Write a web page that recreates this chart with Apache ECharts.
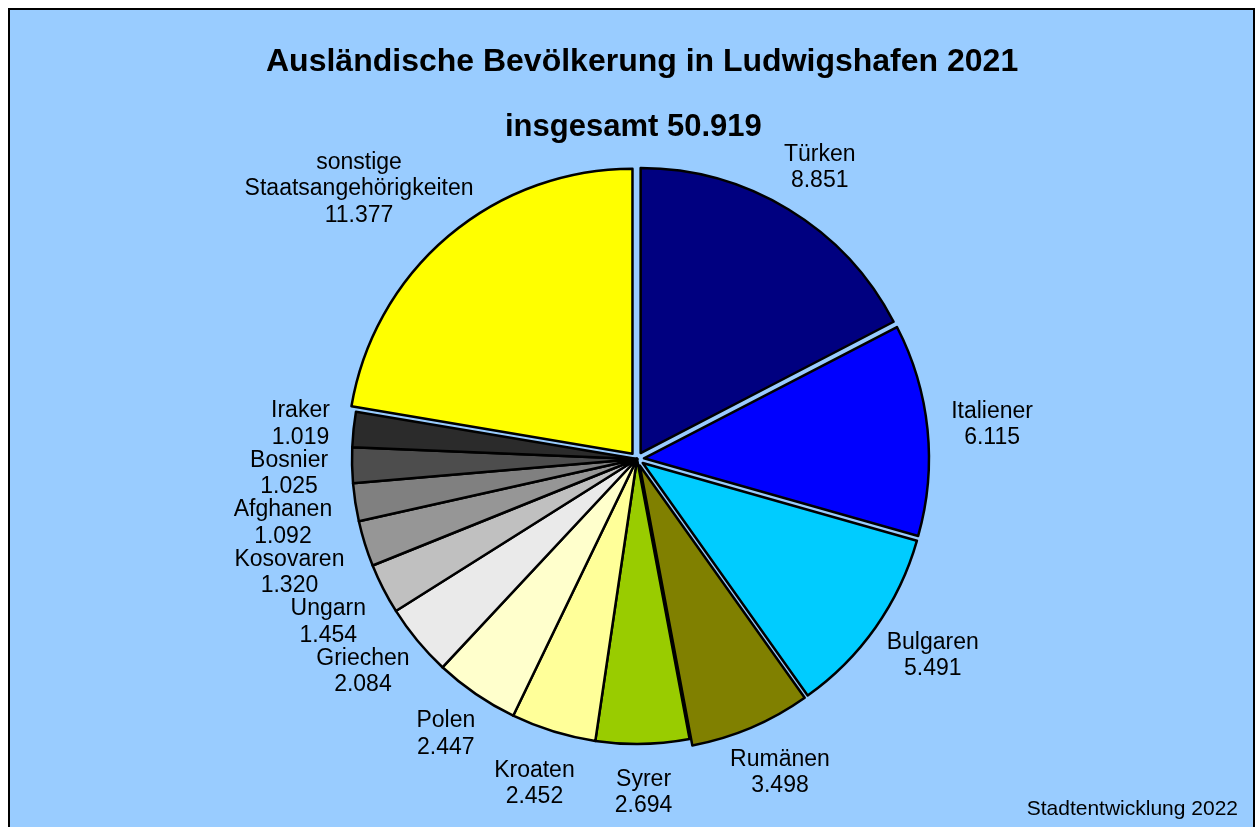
<!DOCTYPE html>
<html>
<head>
<meta charset="utf-8">
<script src="https://cdn.jsdelivr.net/npm/echarts@6/dist/echarts.min.js"></script>
<style>
  html, body { margin: 0; padding: 0; background: #fff; }
  #chart { width: 1257px; height: 827px; }
</style>
</head>
<body>
<div id="chart"></div>
<script>
// Daten (Stadtentwicklung 2022)
var nations = ['Türken', 'Italiener', 'Bulgaren', 'Rumänen', 'Syrer', 'Kroaten', 'Polen',
  'Griechen', 'Ungarn', 'Kosovaren', 'Afghanen', 'Bosnier', 'Iraker', 'sonstige\nStaatsangehörigkeiten']
var counts = [8851, 6115, 5491, 3498, 2694, 2452, 2447, 2084, 1454, 1320, 1092, 1025, 1019, 11377]
var sliceColors = ['#000080', '#0000ff', '#00ccff', '#808000', '#99cc00', '#ffff99', '#ffffcc',
  '#eaeaea', '#c0c0c0', '#969696', '#808080', '#4d4d4d', '#2b2b2b', '#ffff00']
var exploded = ['Türken', 'Italiener', 'Bulgaren', 'Rumänen', 'sonstige\nStaatsangehörigkeiten']
var total = 50919

var pieCenter = [637, 459]
var pieRadius = 285
var explodeOffset = 7
var labelGap = 24

function fmt(n) {
  // deutsches Tausendertrennzeichen
  return String(n).replace(/\B(?=(\d{3})+(?!\d))/g, '.')
}

// Mittelwinkel jedes Segments (im Uhrzeigersinn ab 12 Uhr)
var sum = counts.reduce(function (a, b) { return a + b }, 0)
var midAngles = []
var acc = 0
counts.forEach(function (c) {
  midAngles.push((acc + c / 2) / sum * Math.PI * 2)
  acc += c
})

var chart = echarts.init(document.getElementById('chart'))

var pieData = nations.map(function (name, i) {
  return {
    name: name,
    value: counts[i],
    selected: exploded.indexOf(name) >= 0,
    itemStyle: { color: sliceColors[i] }
  }
})

// zweite, unsichtbare Serie nur fuer die Beschriftungen
var labelData = nations.map(function (name, i) {
  return { name: name, value: counts[i] }
})

var option = {
  backgroundColor: '#ffffff',
  animation: false,
  graphic: [{
    type: 'rect',
    z: -10,
    shape: { x: 9, y: 9, width: 1245, height: 840 },
    style: { fill: '#99ccff', stroke: '#000', lineWidth: 2 }
  }],
  title: [
    {
      text: 'Ausländische Bevölkerung in Ludwigshafen 2021',
      left: 261,
      top: 41,
      textStyle: { fontFamily: 'Liberation Sans', fontWeight: 'bold', fontSize: 32, color: '#000' }
    },
    {
      text: 'insgesamt ' + fmt(total),
      left: 500,
      top: 107,
      textStyle: { fontFamily: 'Liberation Sans', fontWeight: 'bold', fontSize: 31, color: '#000' }
    },
    {
      text: 'Stadtentwicklung 2022',
      right: 14,
      top: 794,
      textStyle: { fontFamily: 'Liberation Sans', fontWeight: 'normal', fontSize: 21, color: '#000' }
    }
  ],
  series: [
    {
      type: 'pie',
      center: pieCenter,
      radius: pieRadius,
      startAngle: 90,
      clockwise: true,
      selectedMode: 'multiple',
      selectedOffset: explodeOffset,
      itemStyle: { borderColor: '#000', borderWidth: 2.5 },
      emphasis: { disabled: true },
      select: { itemStyle: { borderColor: '#000', borderWidth: 2.5 } },
      label: { show: false },
      labelLine: { show: false },
      data: pieData
    },
    {
      type: 'pie',
      center: pieCenter,
      radius: pieRadius,
      startAngle: 90,
      clockwise: true,
      silent: true,
      selectedMode: false,
      avoidLabelOverlap: false,
      itemStyle: { color: 'rgba(0,0,0,0)', borderWidth: 0 },
      emphasis: { disabled: true },
      label: {
        show: true,
        position: 'outside',
        color: '#000',
        padding: [1, 0],
        formatter: function (p) {
          return p.name.split('\n').map(function (s) { return '{a|' + s + '}' }).join('\n') +
            '\n{a|' + fmt(p.value) + '}'
        },
        rich: {
          a: { align: 'center', fontFamily: 'Liberation Sans', fontSize: 23, lineHeight: 26.5, color: '#000' }
        }
      },
      labelLine: { show: false },
      labelLayout: function (p) {
        // Beschriftung aussen am Segment, Textkasten vom Kreis weg geschoben
        var a = midAngles[p.dataIndex]
        var r = pieRadius + labelGap + (exploded.indexOf(nations[p.dataIndex]) >= 0 ? explodeOffset : 0)
        var s = Math.sin(a), c = Math.cos(a)
        return {
          x: pieCenter[0] + r * s + s * p.labelRect.width / 2,
          y: pieCenter[1] - r * c - c * p.labelRect.height / 2,
          align: 'center',
          verticalAlign: 'middle',
          // linke Spalte: Ueberlappungen vertikal aufloesen
          moveOverlap: s < 0 ? 'shiftY' : null
        }
      },
      data: labelData
    }
  ]
}

chart.setOption(option)
</script>
</body>
</html>
